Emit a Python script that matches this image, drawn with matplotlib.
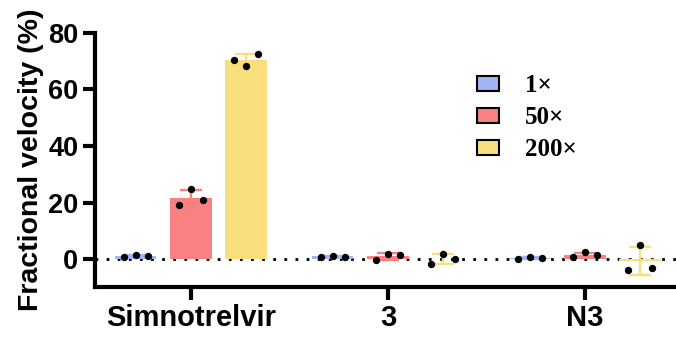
import numpy as np
import matplotlib
matplotlib.use('Agg')
import matplotlib.pyplot as plt
from matplotlib.patches import Patch

# compounds and concentration ratios
compounds = ['Simnotrelvir', '3', 'N3']
ratios = ['1×', '50×', '200×']
colors = ['#A0B5F7', '#F98181', '#F8DE7D']

# replicate fractional velocities (%), one row per compound, one list per ratio
reps_1x = [[0.6, 1.3, 1.1], [0.8, 1.2, 0.9], [0.2, 0.8, 0.3]]
reps_50x = [[19.1, 24.8, 20.9], [-0.3, 1.8, 1.5], [0.8, 2.4, 1.3]]
reps_200x = [[70.5, 68.2, 72.5], [-1.8, 1.7, 0.0], [-4.0, 5.0, -3.2]]

yticks = [0, 20, 40, 60, 80]

plt.rcParams['font.family'] = ['Liberation Sans', 'DejaVu Sans']
plt.rcParams['font.weight'] = 'bold'

fig = plt.figure(figsize=(6.76, 3.41), dpi=100)
ax = fig.add_axes([0.1405, 0.157, 0.8595, 0.747])

width = 0.21
offset = 0.28
jitter = np.array([-0.06, 0.0, 0.06])
x = np.arange(len(compounds))

ax.axhline(0, color='black', lw=2.0, linestyle=(0, (1, 3.0)), zorder=1)

for i, reps in enumerate([reps_1x, reps_50x, reps_200x]):
    reps = np.array(reps)
    mean = reps.mean(axis=1)
    sd = reps.std(axis=1, ddof=1)
    xs = x + (i - 1) * offset
    ax.errorbar(xs, mean, yerr=sd, fmt='none', ecolor=colors[i],
                elinewidth=1.7, capsize=8, capthick=1.7, zorder=2)
    ax.bar(xs, mean, width=width, color=colors[i], zorder=3)
    for j in range(len(compounds)):
        ax.scatter(xs[j] + jitter, reps[j], s=28, color='black', zorder=4,
                   linewidths=0)

ax.set_xlim(-0.487, 2.462)
ax.set_ylim(-10, 80)
ax.set_xticks(x)
ax.set_xticklabels(compounds, fontsize=21, fontweight='bold')
ax.set_yticks(yticks)
ax.set_yticklabels([str(t) for t in yticks], fontsize=19.5, fontweight='bold')
ax.set_ylabel('Fractional velocity (%)', fontsize=20.5, fontweight='bold',
              labelpad=3)

for side in ['top', 'right']:
    ax.spines[side].set_visible(False)
for side in ['left', 'bottom']:
    ax.spines[side].set_linewidth(3)
ax.tick_params(width=3, length=9, pad=3)

handles = [Patch(facecolor=c, edgecolor='black', linewidth=1.5) for c in colors]
ax.legend(handles, ratios, loc='upper left', bbox_to_anchor=(477 / 676, 1 - 74 / 341),
          bbox_transform=fig.transFigure, frameon=False, borderpad=0,
          borderaxespad=0, handlelength=0.88, handleheight=0.56,
          handletextpad=1.05, labelspacing=0.36,
          prop={'family': 'Liberation Serif', 'weight': 'bold', 'size': 18})

fig.savefig('out.png', dpi=100)
